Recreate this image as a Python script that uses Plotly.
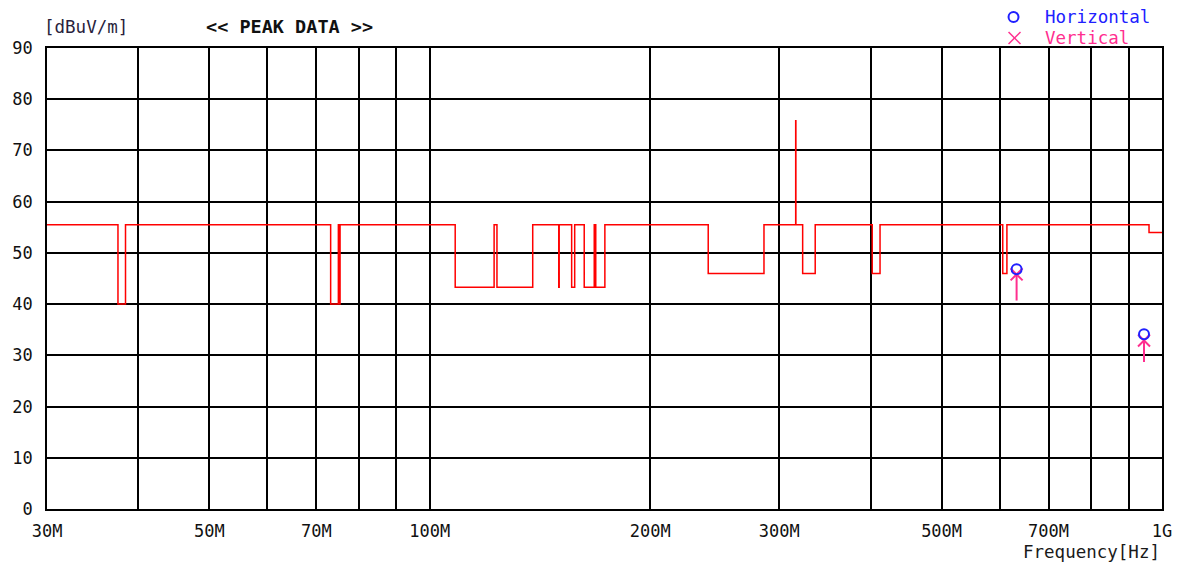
import plotly.graph_objects as go

# ---- data ----
limit_freq_mhz = [30, 37.5, 38.4, 73.2, 75.0, 75.2, 75.4, 108.3, 122.4, 123.5, 138.2,
                  150.0, 150.2, 156.2, 157.7, 162.5, 167.7, 168.5, 173.4, 240.0, 286.0,
                  316.0, 316.2, 323.0, 336.0, 402.0, 412.0, 606.0, 614.0, 960.0, 1000.0]
limit_level = [55.5, 40.0, 55.5, 40.0, 55.5, 40.0, 55.5, 43.3, 55.5, 43.3, 55.5,
               43.3, 55.5, 43.3, 55.5, 43.3, 55.5, 43.3, 55.5, 46.0, 55.5,
               75.8, 55.5, 46.0, 55.5, 46.0, 55.5, 46.0, 55.5, 54.0, 54.0]

horiz_freq_mhz = [633, 945]
horiz_level = [46.8, 34.1]

vert_freq_mhz = [633, 945]
vert_level = [45.8, 32.9]
vert_stem_low = [40.7, 28.7]

grid_freq_mhz = [30, 40, 50, 60, 70, 80, 90, 100, 200, 300, 400, 500, 600, 700, 800, 900, 1000]
grid_text = ["30M", "", "50M", "", "70M", "", "", "100M", "200M", "300M", "", "500M", "",
             "700M", "", "", "1G"]
y_ticks = [0, 10, 20, 30, 40, 50, 60, 70, 80, 90]

FONT = "DejaVu Sans Mono"
BLUE = "#2020ff"
PINK = "#ff2f8f"

fig = go.Figure()

fig.add_trace(go.Scatter(
    x=[f * 1e6 for f in limit_freq_mhz], y=limit_level, mode="lines",
    line=dict(color="#ff0000", width=1.5, shape="hv"), showlegend=False))

# vertical stems
sx, sy = [], []
for f, lv, lo in zip(vert_freq_mhz, vert_level, vert_stem_low):
    sx += [f * 1e6, f * 1e6, None]
    sy += [lv, lo, None]
fig.add_trace(go.Scatter(x=sx, y=sy, mode="lines",
                         line=dict(color=PINK, width=2), showlegend=False))

fig.add_trace(go.Scatter(
    x=[f * 1e6 for f in vert_freq_mhz], y=vert_level, mode="markers",
    marker=dict(symbol="x-thin", size=12, line=dict(color=PINK, width=2)),
    showlegend=False))

fig.add_trace(go.Scatter(
    x=[f * 1e6 for f in horiz_freq_mhz], y=horiz_level, mode="markers",
    marker=dict(symbol="circle-open", size=10, color=BLUE, line=dict(color=BLUE, width=2)),
    showlegend=False))

W, H = 1184, 564
L, R, T, B = 43, 22, 48, 55
PW, PH = W - L - R, H - T - B


def px(xp):
    return (xp - L) / PW


def py(yp):
    return (H - B - yp) / PH


fig.update_layout(
    width=W, height=H,
    margin=dict(l=L, r=R, t=T, b=B),
    paper_bgcolor="white", plot_bgcolor="white",
    font=dict(family=FONT, size=17, color="#111111"),
    xaxis=dict(type="log", range=[7.4771, 9.0], tickvals=[f * 1e6 for f in grid_freq_mhz],
               ticktext=grid_text, showgrid=True, gridcolor="#000000", gridwidth=1.5,
               showline=True, linecolor="#000000", linewidth=1.5, mirror=True,
               ticks="", zeroline=False, ticklabelstandoff=6),
    yaxis=dict(range=[0, 90], tickvals=y_ticks, showgrid=True, gridcolor="#000000",
               gridwidth=1.5, showline=True, linecolor="#000000", linewidth=1.5,
               mirror=True, ticks="", zeroline=False, ticklabelstandoff=9),
    annotations=[
        dict(text="[dBuV/m]", x=px(38), y=py(27), xref="paper", yref="paper",
             xanchor="left", yanchor="middle", showarrow=False,
             font=dict(family=FONT, size=17.5, color="#2a1f3d")),
        dict(text="<b><< PEAK DATA >></b>", x=px(286), y=py(27), xref="paper", yref="paper",
             xanchor="center", yanchor="middle", showarrow=False,
             font=dict(family=FONT, size=18.5, color="#111111")),
        dict(text="Horizontal", x=px(1043), y=py(17), xref="paper", yref="paper",
             xanchor="left", yanchor="middle", showarrow=False,
             font=dict(family=FONT, size=17.5, color=BLUE)),
        dict(text="Vertical", x=px(1043), y=py(38), xref="paper", yref="paper",
             xanchor="left", yanchor="middle", showarrow=False,
             font=dict(family=FONT, size=17.5, color=PINK)),
        dict(text="Frequency[Hz]", x=px(1162), y=py(552), xref="paper", yref="paper",
             xanchor="right", yanchor="middle", showarrow=False,
             font=dict(family=FONT, size=17.5, color="#1a1a1a")),
    ],
    shapes=[
        dict(type="circle", xref="paper", yref="paper",
             x0=px(1008), x1=px(1018), y0=py(22), y1=py(12),
             line=dict(color=BLUE, width=2)),
        dict(type="line", xref="paper", yref="paper",
             x0=px(1008), x1=px(1020), y0=py(32), y1=py(44),
             line=dict(color=PINK, width=1.5)),
        dict(type="line", xref="paper", yref="paper",
             x0=px(1008), x1=px(1020), y0=py(44), y1=py(32),
             line=dict(color=PINK, width=1.5)),
    ],
)

fig.write_html("out.html", config={"displayModeBar": False},
               post_script="document.body.style.margin='0px';")
